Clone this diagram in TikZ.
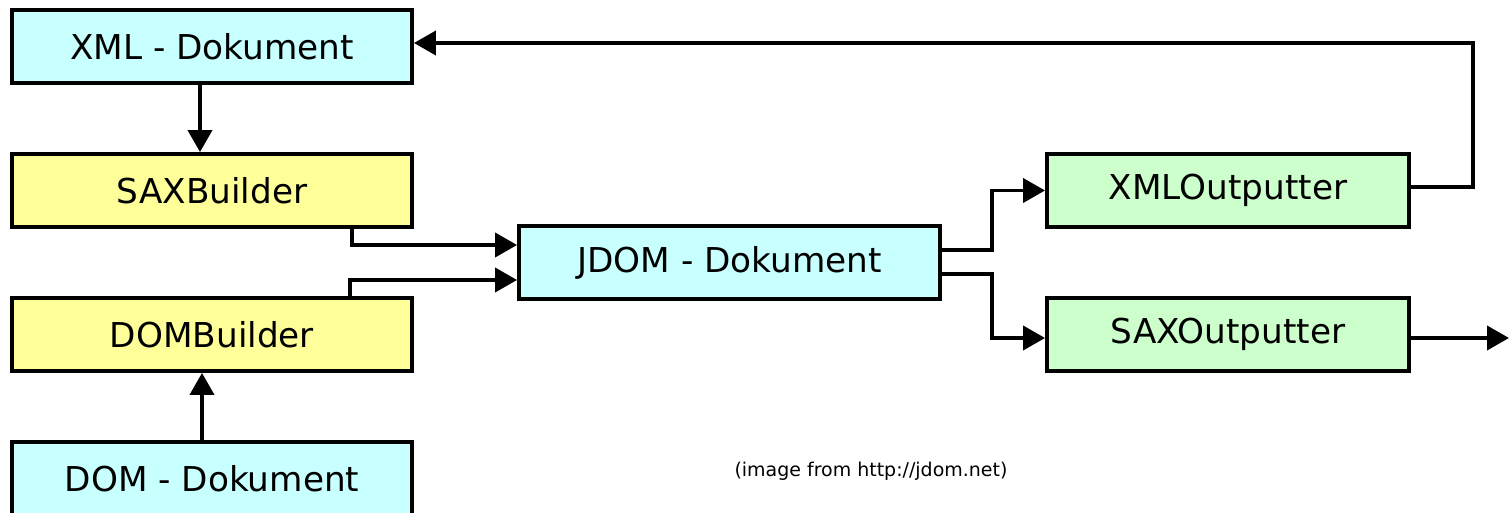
\documentclass[tikz,border=0pt]{standalone}
\usepackage{fontspec}
\setmainfont{DejaVu Sans}
\usetikzlibrary{arrows.meta}
\definecolor{doccyan}{RGB}{200,255,255}
\definecolor{buildyellow}{RGB}{255,255,153}
\definecolor{outgreen}{RGB}{204,255,204}
\tikzstyle{block} = [draw, line width=2.2pt, rectangle, minimum height=1.46cm, font=\fontsize{19.5}{22}\selectfont]
\tikzstyle{doc} = [block, fill=doccyan, minimum width=8cm]
\tikzstyle{builder} = [block, fill=buildyellow, minimum width=8cm]
\tikzstyle{outputter} = [block, fill=outgreen, minimum width=7.24cm]
\tikzstyle{note} = [draw=none, font=\fontsize{10.8}{13}\selectfont]

\begin{document}
\begin{tikzpicture}[node distance=2.88cm, >={Triangle[length=0.44cm,width=0.48cm]}, line width=2.2pt]
 \useasboundingbox (0,0) rectangle (30.18,-10.26);
 % nodes
    \node [doc, name=xml] at (4.24,-0.93) {XML - Dokument};
    \node [builder, below of=xml, name=sax] {SAXBuilder};
    \node [builder, below of=sax, name=dombuilder] {DOMBuilder};
    \node [doc, below of=dombuilder, name=dom] {DOM - Dokument};
    \node [doc, minimum width=8.42cm, name=jdom] at (14.59,-5.25) {JDOM - Dokument};
    \node [outputter, name=xmlout] at (24.56,-3.81) {XMLOutputter};
    \node [outputter, below of=xmlout, name=saxout] {SAXOutputter};
    \node [note, name=credit] at (17.42,-9.42) {(image from http://jdom.net)};
    \coordinate (saxend) at (30.18,-6.76);
    % edges
    \draw [->] ([xshift=-0.24cm]xml.south) -- ([xshift=-0.24cm]sax.north);
    \draw [->] ([xshift=-0.2cm]dom.north) -- ([xshift=-0.2cm]dombuilder.south);
    \draw [->] ([xshift=2.8cm]sax.south) |- ([yshift=0.35cm]jdom.west);
    \draw [->] ([xshift=2.76cm]dombuilder.north) |- ([yshift=-0.35cm]jdom.west);
    \draw [->] ([yshift=0.25cm]jdom.east) -- ++(1.0,0) |- (xmlout.west);
    \draw [->] ([yshift=-0.23cm]jdom.east) -- ++(1.0,0) |- (saxend -| saxout.west);
    \draw [->] ([yshift=0.07cm]xmlout.east) -- ++(1.24,0) |- ([yshift=0.07cm]xml.east);
    \draw [->] (saxend -| saxout.east) -- (saxend);
\end{tikzpicture}
\end{document}
